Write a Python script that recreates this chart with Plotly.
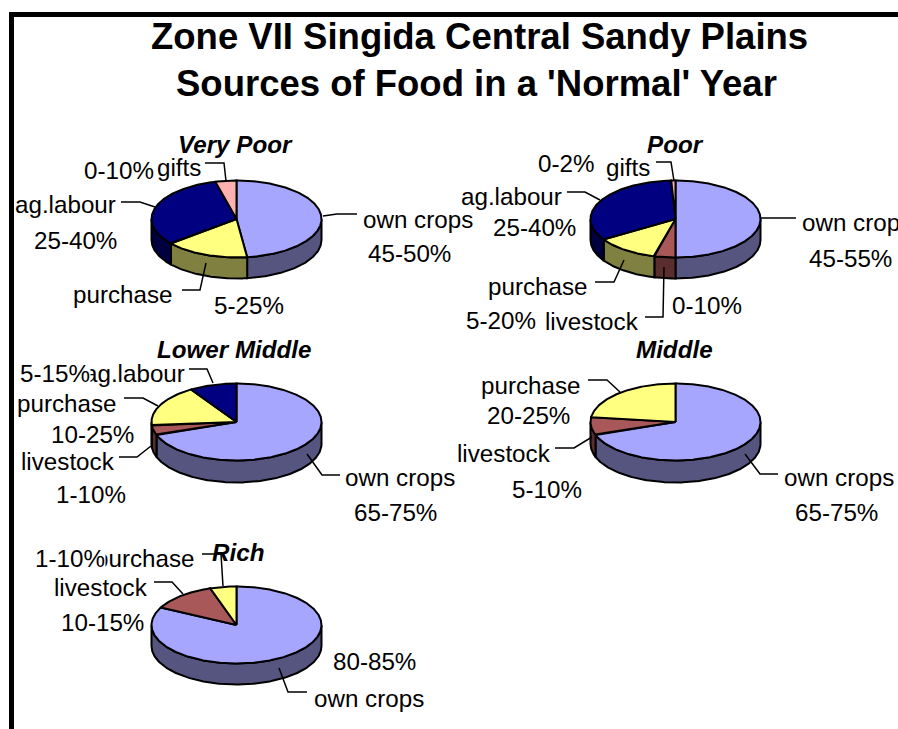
import numpy as np
import plotly.graph_objects as go

# ---- data -----------------------------------------------------------------
title_lines = ["Zone VII Singida Central Sandy Plains", "Sources of Food in a 'Normal' Year"]
group_names = ["Very Poor", "Poor", "Lower Middle", "Middle", "Rich"]

very_poor_sources = ["own crops", "purchase", "ag.labour", "gifts"]
very_poor_values = [48, 16, 32, 4]
very_poor_ranges = ["45-50%", "5-25%", "25-40%", "0-10%"]

poor_sources = ["own crops", "livestock", "purchase", "ag.labour", "gifts"]
poor_values = [50, 4, 12, 33.2, 0.8]
poor_ranges = ["45-55%", "0-10%", "5-20%", "25-40%", "0-2%"]

lower_middle_sources = ["own crops", "livestock", "purchase", "ag.labour"]
lower_middle_values = [69.5, 4, 17.5, 9]
lower_middle_ranges = ["65-75%", "1-10%", "10-25%", "5-15%"]

middle_sources = ["own crops", "livestock", "purchase"]
middle_values = [69.5, 7.5, 23]
middle_ranges = ["65-75%", "5-10%", "20-25%"]

rich_sources = ["own crops", "livestock", "purchase"]
rich_values = [82.5, 12.5, 5]
rich_ranges = ["80-85%", "10-15%", "1-10%"]

top_colors = {"own crops": "#A6A6FF", "purchase": "#FFFF80", "ag.labour": "#000080",
              "gifts": "#FFB0B0", "livestock": "#A85858"}
side_colors = {"own crops": "#555580", "purchase": "#808040", "ag.labour": "#000040",
               "gifts": "#805858", "livestock": "#5A2E2E"}

# ---- layout: pie centres and label placement, in page pixels ---------------
W, H = 898, 729
A, B = 85, 38.5
pies = [
    (group_names[0], very_poor_sources, very_poor_values, very_poor_ranges, 236.5, 219, 21, (235, 144)),
    (group_names[1], poor_sources, poor_values, poor_ranges, 675.5, 219, 21, (675, 144)),
    (group_names[2], lower_middle_sources, lower_middle_values, lower_middle_ranges, 236.5, 422, 22, (234.5, 349)),
    (group_names[3], middle_sources, middle_values, middle_ranges, 675.5, 422, 22, (674, 349)),
    (group_names[4], rich_sources, rich_values, rich_ranges, 236.5, 625, 21, (238, 552)),
]
# per pie: source -> (name x, name y, range x, range y)
label_pos = [
    {"own crops": (418, 219, 409, 253), "purchase": (123, 294, 249, 305),
     "ag.labour": (65, 204, 75, 240), "gifts": (179, 167, 119, 170)},
    {"own crops": (857, 222, 850, 258), "livestock": (592, 321, 707, 305), "purchase": (538, 286, 501, 320),
     "ag.labour": (511, 196, 534, 227), "gifts": (628, 167, 566, 163)},
    {"own crops": (400, 477, 395, 512), "livestock": (68, 461, 91, 494), "purchase": (67, 403, 92, 434),
     "ag.labour": (134, 373, 55, 373)},
    {"own crops": (839, 477, 836, 512), "livestock": (504, 453, 547, 489), "purchase": (531, 385, 528, 415)},
    {"own crops": (369, 698, 374, 661), "livestock": (101, 587, 102, 622), "purchase": (145, 558, 70, 558)},
]
leaders = [
    [[(205, 163), (224, 163), (226, 181)], [(121, 202), (140, 202), (155, 207)],
     [(323, 216), (337, 214), (357, 214)], [(182, 290), (200, 290), (206, 263)]],
    [[(656, 162), (671, 162), (674, 181)], [(567, 192), (585, 192), (600, 200)],
     [(761, 218), (796, 218)], [(595, 282), (614, 282), (624, 260)], [(645, 317), (663, 317), (664, 267)]],
    [[(189, 369), (207, 369), (213, 383)], [(124, 398), (143, 398), (158, 406)],
     [(119, 457), (137, 457), (151, 446)], [(340, 475), (322, 475), (307, 454)]],
    [[(588, 380), (607, 380), (620, 392)], [(555, 448), (574, 448), (592, 437)],
     [(778, 474), (760, 474), (745, 454)]],
    [[(202, 554), (221, 554), (223, 586)], [(154, 582), (172, 582), (183, 594)],
     [(307, 692), (288, 692), (279, 668)]],
]
white_back = {"5-15%", "1-10%"}

FONT = "Liberation Sans, Arial, sans-serif"
fig = go.Figure()


def arc(cx, cy, t1, t2):
    t = np.radians(np.linspace(t1, t2, max(int(abs(t2 - t1)) * 2, 2) + 1))
    return cx + A * np.sin(t), cy - B * np.cos(t)


def poly(x, y, color, width=2):
    fig.add_trace(go.Scatter(x=list(x), y=list(y), mode="lines", fill="toself", fillcolor=color,
                             line=dict(color="black", width=width), hoverinfo="skip", showlegend=False))


annotations = []


def text(x, y, s, size=24.2, bold=False, italic=False, bg=None):
    if bold:
        s = "<b>" + s + "</b>"
    if italic:
        s = "<i>" + s + "</i>"
    annotations.append(dict(x=x, y=y, text=s, xref="x", yref="y", showarrow=False, xanchor="center",
                            yanchor="middle", borderpad=0, bgcolor=bg,
                            font=dict(family=FONT, size=size, color="black")))


for (name, sources, values, ranges, cx, cy, depth, title_xy), pos, lead in zip(pies, label_pos, leaders):
    edges = np.concatenate([[0], np.cumsum(values)]) / np.sum(values) * 360
    # side walls: only the front half of the rim shows
    for s, t1, t2 in zip(sources, edges[:-1], edges[1:]):
        lo, hi = max(t1, 90), min(t2, 270)
        if hi > lo:
            x, y = arc(cx, cy, lo, hi)
            poly(np.r_[x, x[::-1], x[0]], np.r_[y, y[::-1] + depth, y[0]], side_colors[s])
    # top faces
    for s, t1, t2 in zip(sources, edges[:-1], edges[1:]):
        x, y = arc(cx, cy, t1, t2)
        poly(np.r_[cx, x, cx], np.r_[cy, y, cy], top_colors[s])
    # leader lines
    for seg in lead:
        fig.add_trace(go.Scatter(x=[p[0] for p in seg], y=[p[1] for p in seg], mode="lines",
                                 line=dict(color="black", width=1.5), hoverinfo="skip", showlegend=False))
    # labels
    for s, r in zip(sources, ranges):
        nx, ny, rx, ry = pos[s]
        text(nx, ny, s)
    for s, r in zip(sources, ranges):
        nx, ny, rx, ry = pos[s]
        text(rx, ry, r, bg="white" if r in white_back and name in ("Lower Middle", "Rich") else None)
    text(title_xy[0], title_xy[1], name, bold=True, italic=True)

text(479.5, 36, title_lines[0], size=36.5, bold=True)
text(476, 83, title_lines[1], size=36.5, bold=True)

fig.update_layout(
    width=W, height=H, autosize=False, margin=dict(l=0, r=0, t=0, b=0),
    paper_bgcolor="white", plot_bgcolor="white", showlegend=False,
    xaxis=dict(range=[0, W], visible=False, fixedrange=True),
    yaxis=dict(range=[H, 0], visible=False, fixedrange=True),
    annotations=annotations,
    shapes=[
        dict(type="rect", xref="x", yref="y", x0=9, x1=14, y0=12, y1=H + 5, fillcolor="black", line_width=0, layer="above"),
        dict(type="rect", xref="x", yref="y", x0=9, x1=W + 5, y0=12, y1=17, fillcolor="black", line_width=0, layer="above"),
    ],
)
fig.write_html("out.html", config={"displayModeBar": False},
               post_script="document.body.style.margin='0';document.documentElement.style.overflow='hidden';")
